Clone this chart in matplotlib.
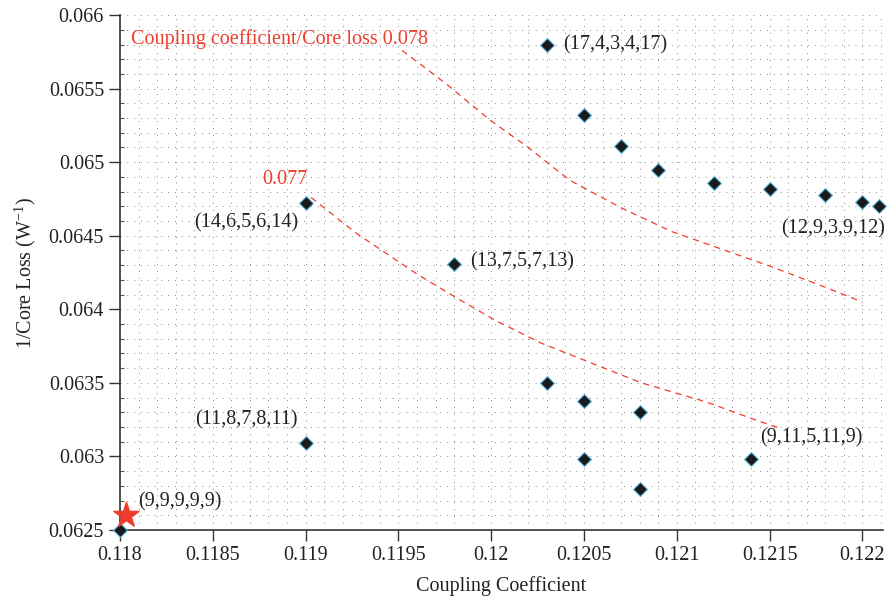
import matplotlib.pyplot as plt
from matplotlib.ticker import MultipleLocator

plt.rcParams['font.family'] = ['Liberation Serif', 'DejaVu Serif']
plt.rcParams['mathtext.fontset'] = 'custom'
plt.rcParams['mathtext.rm'] = 'Liberation Serif'

# design points (coupling coefficient, 1/core loss)
coupling = [0.1180, 0.1190, 0.1190, 0.1198, 0.1203, 0.1205, 0.1207, 0.1209,
            0.1212, 0.1215, 0.1218, 0.1220, 0.12209,
            0.1203, 0.1205, 0.1208, 0.1205, 0.1208, 0.1214]
inv_loss = [0.06250, 0.06309, 0.06472, 0.06431, 0.06580, 0.06532, 0.06511, 0.06495,
            0.06486, 0.06482, 0.06478, 0.06473, 0.06470,
            0.06350, 0.06338, 0.06330, 0.06298, 0.06278, 0.06298]

# chosen design
star_x = [0.11803]
star_y = [0.06260]

# constant ratio curves
curve78_x = [0.11952, 0.11977, 0.11999, 0.12020, 0.12042, 0.12070, 0.12097,
             0.12124, 0.12151, 0.12178, 0.12200]
curve78_y = [0.06576, 0.06552, 0.06529, 0.06510, 0.06488, 0.06469, 0.06453,
             0.06441, 0.06429, 0.06416, 0.06405]
curve77_x = [0.11903, 0.11927, 0.11960, 0.11981, 0.12003, 0.12027, 0.12053,
             0.12081, 0.12116, 0.12142, 0.12156]
curve77_y = [0.06476, 0.06452, 0.06424, 0.06408, 0.06392, 0.06377, 0.06364,
             0.06350, 0.06337, 0.06325, 0.06319]

# point labels: text, anchor point, offset in px, alignment
labels = [
    ('(17,4,3,4,17)', 0.1203, 0.06580, (16, 0), 'left'),
    ('(14,6,5,6,14)', 0.1190, 0.06472, (-7, -19), 'right'),
    ('(13,7,5,7,13)', 0.1198, 0.06431, (16, 2), 'left'),
    ('(12,9,3,9,12)', 0.12209, 0.06470, (6, -23), 'right'),
    ('(11,8,7,8,11)', 0.1190, 0.06309, (-8, 23), 'right'),
    ('(9,11,5,11,9)', 0.1214, 0.06298, (9, 22), 'left'),
    ('(9,9,9,9,9)', 0.11803, 0.06260, (13, 13), 'left'),
]

red = '#f03c2c'
fs = 14.5

fig = plt.figure(figsize=(8.89, 6.03), dpi=100)
ax = fig.add_axes([0.135, 0.121, 0.858, 0.854])

ax.plot(curve78_x, curve78_y, color=red, ls=(0, (5, 4)), lw=0.9, zorder=2)
ax.plot(curve77_x, curve77_y, color=red, ls=(0, (5, 4)), lw=0.9, zorder=2)

ax.scatter(coupling, inv_loss, marker='D', s=50, color='#1a1a1a',
           edgecolors='#5ab4dc', linewidths=0.8, zorder=4, clip_on=False)
ax.scatter(star_x, star_y, marker='*', s=360, color=red, zorder=5, clip_on=False)

for txt, x, y, off, ha in labels:
    ax.annotate(txt, (x, y), xytext=off, textcoords='offset pixels',
                ha=ha, va='center', fontsize=fs, color='#222222')

ax.text(0.11806, 0.06584, 'Coupling coefficient/Core loss 0.078', color=red,
        fontsize=fs, ha='left', va='center')
ax.text(0.11901, 0.06488, '0.077', color=red, fontsize=fs, ha='right', va='center')

ax.set_xlim(0.118, 0.12211)
ax.set_ylim(0.0625, 0.066)
ax.xaxis.set_major_locator(MultipleLocator(0.0005))
ax.yaxis.set_major_locator(MultipleLocator(0.0005))
ax.xaxis.set_minor_locator(MultipleLocator(0.0001))
ax.yaxis.set_minor_locator(MultipleLocator(0.0001))
ax.xaxis.set_major_formatter(plt.FuncFormatter(lambda v, p: f'{v:g}'))
ax.yaxis.set_major_formatter(plt.FuncFormatter(lambda v, p: f'{v:g}'))

ax.grid(which='both', color='#888888', ls=(0, (1, 6)), lw=0.7)
ax.set_axisbelow(True)

for s in ['top', 'right']:
    ax.spines[s].set_visible(False)
for s in ['left', 'bottom']:
    ax.spines[s].set_color('#333333')
    ax.spines[s].set_linewidth(1.2)

ax.tick_params(which='major', direction='out', length=8, width=1, colors='#333333',
               labelsize=fs, labelcolor='#222222')
ax.tick_params(axis='y', which='minor', direction='in', length=3, width=0.8, colors='#555555')
ax.tick_params(axis='x', which='minor', length=0)

ax.set_xlabel('Coupling Coefficient', fontsize=fs, color='#222222', labelpad=8)
ax.set_ylabel(r'1/Core Loss (W$^{\mathrm{-1}}$)', fontsize=fs, color='#222222', labelpad=8)

fig.savefig('out.png', dpi=100)
